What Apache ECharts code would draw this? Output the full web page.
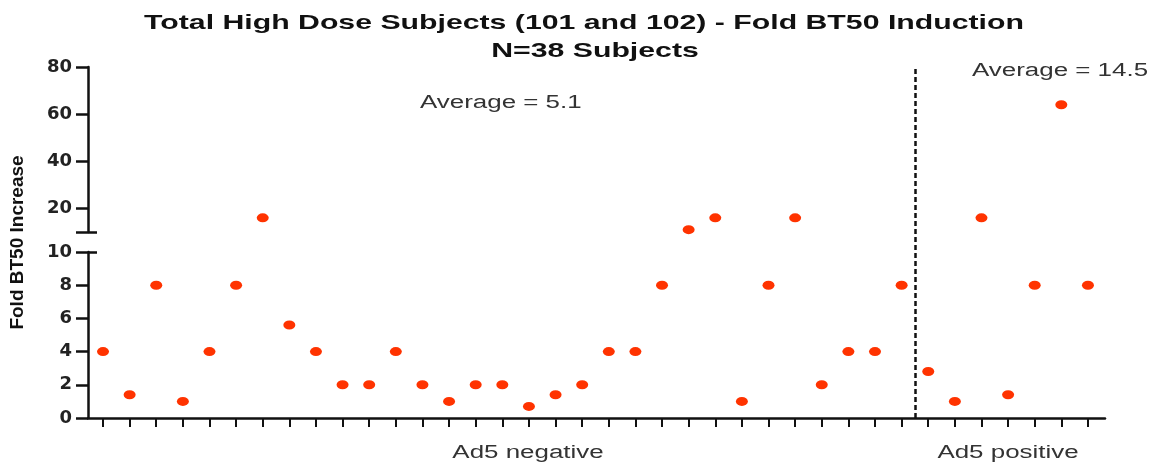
<!DOCTYPE html>
<html><head><meta charset="utf-8">
<script src="https://cdn.jsdelivr.net/npm/echarts@6/dist/echarts.min.js"></script>
<style>html,body{margin:0;padding:0;background:#fff}#c{width:1153px;height:464px}</style>
</head><body><div id="c"></div>
<script>
// ---- data ----
const ad5Negative = [4, 1.4, 8, 1, 4, 8, 16, 5.6, 4, 2, 2, 4, 2, 1, 2, 2, 0.7, 1.4, 2, 4, 4, 8, 11, 16, 1, 8, 16, 2, 4, 4, 8];
const ad5Positive = [2.8, 1, 16, 1.4, 8, 64, 8];
const groupLabels = ['Ad5 negative', 'Ad5 positive'];
const averageLabels = ['Average = 5.1', 'Average = 14.5'];
const upperTicks = [20, 40, 60, 80];
const lowerTicks = [0, 2, 4, 6, 8, 10];
const breakValue = 10;
const titleText = 'Total High Dose Subjects (101 and 102) - Fold BT50 Induction';
const subtitleText = 'N=38 Subjects';
const yName = 'Fold BT50 Increase';

// ---- build ----
const allValues = ad5Negative.concat(ad5Positive);
const positions = allValues.map((v, i) => i + 1);
const lowerData = [], upperData = [];
allValues.forEach((v, i) => { (v > breakValue ? upperData : lowerData).push([i + 1, v]); });
const nNeg = ad5Negative.length;
const divider = nNeg + 0.5;

const FONT = '"Liberation Sans", Arial, sans-serif';
const TICKFONT = '"DejaVu Sans", "Liberation Sans", sans-serif';
const X_MIN = 0.4365, X_MAX = 38.64;
const grids = [
  { left: 88, right: 48, top: 67, height: 165 },
  { left: 88, right: 48, top: 252, height: 166 },
  { left: 88, right: 48, top: 67, height: 351 }
];
const axisCol = '#111';
const hiddenX = (gi) => ({ type: 'value', gridIndex: gi, min: X_MIN, max: X_MAX, show: false });
const SX = 1.44;

const chart = echarts.init(document.getElementById('c'), null, { renderer: 'canvas' });
chart.setOption({
  animation: false,
  backgroundColor: '#fff',
  grid: grids,
  xAxis: [
    hiddenX(0),
    {
      type: 'value', gridIndex: 1, min: X_MIN, max: X_MAX,
      axisLine: { show: true, lineStyle: { color: axisCol, width: 2.5 } },
      axisTick: { show: true, length: 9, lineStyle: { color: axisCol, width: 2 }, customValues: positions },
      axisLabel: { show: false },
      splitLine: { show: false }
    },
    hiddenX(2)
  ],
  yAxis: [
    { // upper main
      type: 'value', gridIndex: 0, min: breakValue, max: 80,
      axisLine: { show: true, lineStyle: { color: axisCol, width: 2.5 } },
      axisTick: { show: true, length: 12, lineStyle: { color: axisCol, width: 2.5 }, customValues: [breakValue].concat(upperTicks) },
      axisLabel: { customValues: upperTicks, margin: 16, fontFamily: TICKFONT, fontWeight: 'bold', fontSize: 18, color: '#222' },
      splitLine: { show: false }
    },
    { // upper break bar inside
      type: 'value', gridIndex: 0, min: breakValue, max: 80, position: 'left',
      axisLine: { show: false },
      axisTick: { show: true, inside: true, length: 9, lineStyle: { color: axisCol, width: 2.5 }, customValues: [breakValue] },
      axisLabel: { show: false }, splitLine: { show: false }
    },
    { // lower main
      type: 'value', gridIndex: 1, min: 0, max: breakValue,
      axisLine: { show: true, lineStyle: { color: axisCol, width: 2.5 } },
      axisTick: { show: true, length: 12, lineStyle: { color: axisCol, width: 2.5 }, customValues: lowerTicks },
      axisLabel: { customValues: lowerTicks, margin: 16, fontFamily: TICKFONT, fontWeight: 'bold', fontSize: 18, color: '#222' },
      splitLine: { show: false }
    },
    { // lower break bar inside
      type: 'value', gridIndex: 1, min: 0, max: breakValue, position: 'left',
      axisLine: { show: false },
      axisTick: { show: true, inside: true, length: 9, lineStyle: { color: axisCol, width: 2.5 }, customValues: [breakValue] },
      axisLabel: { show: false }, splitLine: { show: false }
    },
    { // overlay for name + divider
      type: 'value', gridIndex: 2, min: 0, max: 1,
      axisLine: { show: false }, axisTick: { show: false }, axisLabel: { show: false }, splitLine: { show: false },
      name: yName, nameLocation: 'middle', nameGap: 61, nameRotate: 90,
      nameTextStyle: { fontFamily: FONT, fontWeight: 'bold', fontSize: 19, color: '#111' }
    }
  ],
  series: [
    {
      type: 'scatter', xAxisIndex: 0, yAxisIndex: 0, data: upperData,
      symbol: 'circle', symbolSize: [12, 9], itemStyle: { color: '#ff3300', opacity: 1 }
    },
    {
      type: 'scatter', xAxisIndex: 1, yAxisIndex: 2, data: lowerData,
      symbol: 'circle', symbolSize: [12, 9], itemStyle: { color: '#ff3300', opacity: 1 }
    },
    {
      type: 'scatter', xAxisIndex: 2, yAxisIndex: 4, data: [],
      markLine: {
        silent: true, symbol: 'none', label: { show: false },
        lineStyle: { color: '#111', width: 2.5, type: [5, 3], opacity: 1 },
        data: [{ xAxis: divider }]
      }
    }
  ],
  graphic: [
    { type: 'text', x: 584, y: 23, scaleX: SX, style: { text: titleText, font: 'bold 21px ' + FONT, fill: '#111', textAlign: 'center', textVerticalAlign: 'middle' } },
    { type: 'text', x: 595, y: 51, scaleX: SX, style: { text: subtitleText, font: 'bold 21px ' + FONT, fill: '#111', textAlign: 'center', textVerticalAlign: 'middle' } },
    { type: 'text', x: 420, y: 103, scaleX: SX, style: { text: averageLabels[0], font: '18px ' + FONT, fill: '#333', textAlign: 'left', textVerticalAlign: 'middle' } },
    { type: 'text', x: 972, y: 71, scaleX: SX, style: { text: averageLabels[1], font: '18px ' + FONT, fill: '#333', textAlign: 'left', textVerticalAlign: 'middle' } },
    { type: 'text', x: 528, y: 453, scaleX: SX, style: { text: groupLabels[0], font: '18px ' + FONT, fill: '#333', textAlign: 'center', textVerticalAlign: 'middle' } },
    { type: 'text', x: 1008, y: 453, scaleX: SX, style: { text: groupLabels[1], font: '18px ' + FONT, fill: '#333', textAlign: 'center', textVerticalAlign: 'middle' } }
  ]
});
</script>
</body></html>
